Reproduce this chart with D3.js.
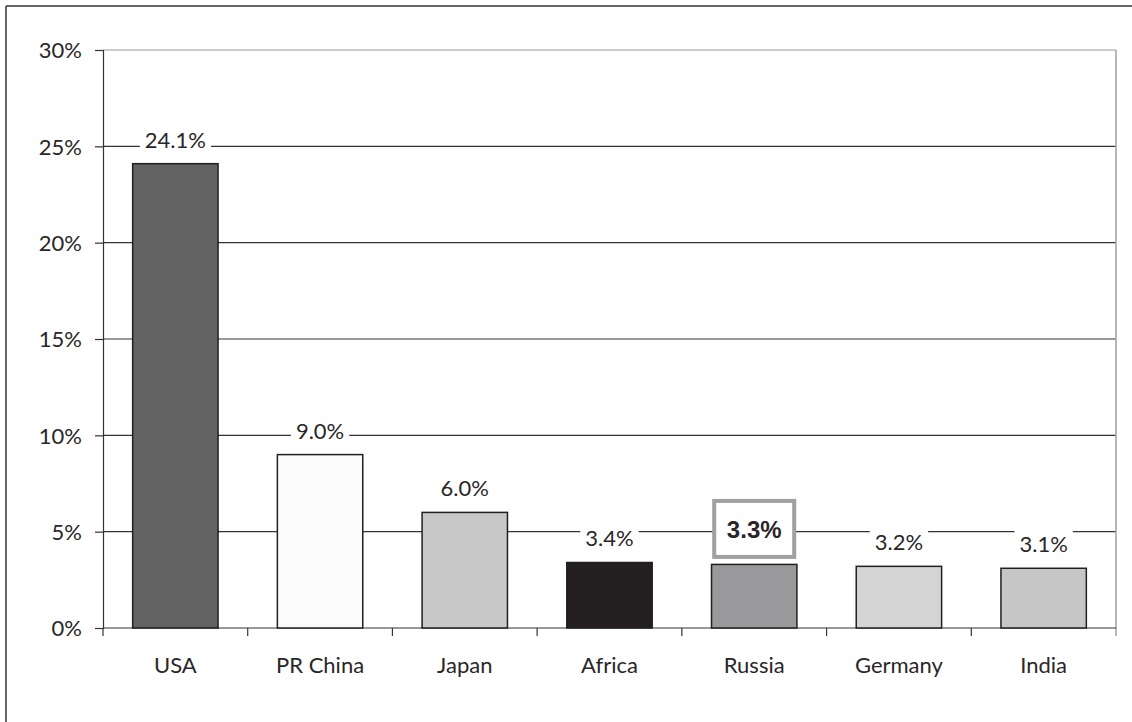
<!DOCTYPE html>
<html>
<head>
<meta charset="utf-8">
<script src="https://cdn.jsdelivr.net/npm/d3@7"></script>
<style>
  body { margin: 0; background: #fff; }
  svg { display: block; }
  text { font-family: "Lato", "DejaVu Sans", sans-serif; font-weight: 400; fill: #2a2627; }
</style>
</head>
<body>
<svg id="chart" width="1132" height="722"></svg>
<script>
// data
const categories = ["USA", "PR China", "Japan", "Africa", "Russia", "Germany", "India"];
const shares = [24.1, 9.0, 6.0, 3.4, 3.3, 3.2, 3.1];
const yTicks = [0, 5, 10, 15, 20, 25, 30];
const highlighted = "Russia";

const barColors = ["#636363", "#fbfbfb", "#c8c8c8", "#231f20", "#9a9a9c", "#d4d4d4", "#c6c6c6"];

const svg = d3.select("#chart");
const W = 1132, H = 722;
const margin = { top: 50, right: 16, bottom: 94, left: 103 };
const width = W - margin.left - margin.right;
const height = H - margin.top - margin.bottom;
const fontSize = "22px";

// outer frame (top and left only)
svg.append("line").attr("x1", 6).attr("y1", 6).attr("x2", W).attr("y2", 6)
    .attr("stroke", "#333").attr("stroke-width", 1.5);
svg.append("line").attr("x1", 6).attr("y1", 6).attr("x2", 6).attr("y2", H)
    .attr("stroke", "#333").attr("stroke-width", 1.5);

const g = svg.append("g").attr("transform", `translate(${margin.left},${margin.top})`);

const x = d3.scaleBand().domain(categories).range([0, width]).paddingInner(0.41).paddingOuter(0.205);
const xTickScale = d3.scaleLinear().domain([0, categories.length]).range([0, width]);
const y = d3.scaleLinear().domain([0, 30]).range([height, 0]);

// gridlines
g.selectAll(".grid")
    .data(yTicks.filter(d => d > 0))
    .enter()
    .append("line")
    .attr("x1", 0)
    .attr("x2", width)
    .attr("y1", d => y(d))
    .attr("y2", d => y(d))
    .attr("stroke", d => d === 30 ? "#999" : "#333")
    .attr("stroke-width", 1.2);

// right border of plot
g.append("line").attr("x1", width).attr("x2", width).attr("y1", 0).attr("y2", height + 8)
    .attr("stroke", "#a0a0a0").attr("stroke-width", 1.5);

// y axis
const yAxis = g.append("g")
    .call(d3.axisLeft(y).tickValues(yTicks).tickFormat(d => d + "%").tickSize(8).tickPadding(13));
yAxis.select(".domain").attr("stroke", "#333").attr("stroke-width", 1.2);
yAxis.selectAll(".tick line").attr("stroke", "#333").attr("stroke-width", 1.2);
yAxis.selectAll(".tick text").style("font-size", fontSize).attr("fill", "#2a2627")
    .attr("dy", "0.36em")
    .style("font-family", '"Lato", "DejaVu Sans", sans-serif');

// x axis baseline and ticks between categories
g.append("line").attr("x1", 0).attr("x2", width).attr("y1", height).attr("y2", height)
    .attr("stroke", "#333").attr("stroke-width", 1.2);
g.selectAll(".xtick")
    .data(d3.range(categories.length))
    .enter()
    .append("line")
    .attr("x1", d => xTickScale(d))
    .attr("x2", d => xTickScale(d))
    .attr("y1", height)
    .attr("y2", height + 8)
    .attr("stroke", "#333")
    .attr("stroke-width", 1.2);

g.selectAll(".xlabel")
    .data(categories)
    .enter()
    .append("text")
    .attr("x", d => x(d) + x.bandwidth() / 2)
    .attr("y", height + 37)
    .attr("dy", "0.36em")
    .attr("text-anchor", "middle")
    .style("font-size", fontSize)
    .text(d => d);

// bars
const data = categories.map((c, i) => ({ cat: c, v: shares[i], color: barColors[i] }));

g.selectAll(".bar")
    .data(data)
    .enter()
    .append("rect")
    .attr("x", d => x(d.cat))
    .attr("y", d => y(d.v))
    .attr("width", x.bandwidth())
    .attr("height", d => height - y(d.v))
    .attr("fill", d => d.color)
    .attr("stroke", "#231f20")
    .attr("stroke-width", 1.5);

// value labels with white knockout
const labels = g.selectAll(".vlabel")
    .data(data)
    .enter()
    .append("g")
    .attr("transform", d => {
        const off = d.cat === highlighted ? 35.5 : 24;
        return `translate(${x(d.cat) + x.bandwidth() / 2},${y(d.v) - off})`;
    });

labels.each(function (d) {
    const sel = d3.select(this);
    const hl = d.cat === highlighted;
    const t = sel.append("text")
        .attr("text-anchor", "middle")
        .attr("dy", "0.36em")
        .style("font-size", hl ? "24px" : fontSize)
        .style("font-weight", hl ? "bold" : null)
        .style("font-family", hl ? '"Liberation Sans", Arial, sans-serif' : null)
        .text(d.v.toFixed(1) + "%");
    const bb = t.node().getBBox();
    if (hl) {
        sel.insert("rect", "text")
            .attr("x", -40).attr("y", -28)
            .attr("width", 80).attr("height", 56)
            .attr("fill", "#fff")
            .attr("stroke", "#a0a0a0")
            .attr("stroke-width", 4);
    } else {
        sel.insert("rect", "text")
            .attr("x", bb.x - 5).attr("y", bb.y)
            .attr("width", bb.width + 10).attr("height", bb.height)
            .attr("fill", "#fff");
    }
});
</script>
</body>
</html>
